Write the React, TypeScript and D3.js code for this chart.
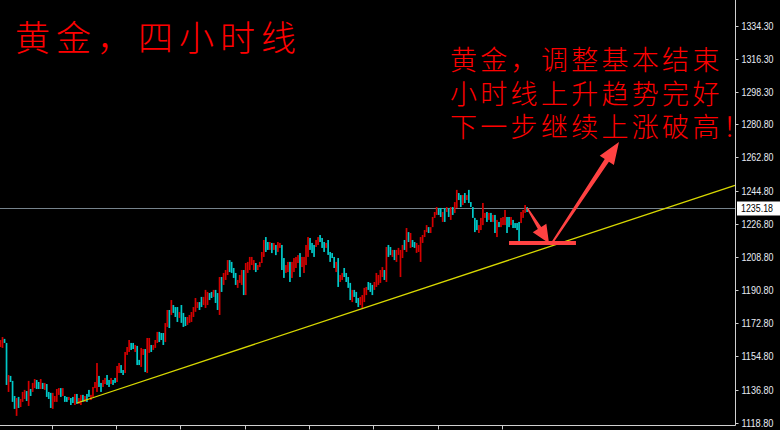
import React from 'react';
import * as d3 from 'd3';

const W = 780;
const H = 430;

const titleText = '黄金，四小时线';
const noteLines = ['黄金，调整基本结束', '小时线上升趋势完好', '下一步继续上涨破高！'];
const priceTicks = ['1334.30', '1316.30', '1298.30', '1280.80', '1262.80', '1244.80', '1226.80', '1208.80', '1190.80', '1172.80', '1154.80', '1136.80', '1118.80'];
const lastPrice = 1235.18;

// u = rising bar (red), d = falling bar (cyan)
const barDirs = [
  'uuddudddud', 'uuududuudd', 'ududdduuuu', 'dudduddudu', 'ududduuuud',
  'duuddudduu', 'dduuuddudd', 'uuduuduuud', 'dduududddu', 'ddduuuuuud',
  'duuudduddu', 'duuudddduu', 'uduuuuuduu', 'uuddududuu', 'dduuduuuud',
  'uuuuddduud', 'dduddddudu', 'uddddudddu', 'uuuddduuuu', 'ududduduuu',
  'udududduuu', 'uuuduuuudd', 'udududuudd', 'ududdddduu', 'uududududu',
  'uudduddddu', 'uud',
].join('');

const highs = [
  1163.7, 1165.3, 1164.3, 1162.1, 1144.7, 1144.2, 1141.5, 1133.3, 1132.2, 1132.8,
  1131.7, 1135.5, 1136.6, 1136.0, 1141.5, 1137.1, 1140.4, 1142.5, 1142.0, 1140.9,
  1142.5, 1140.4, 1140.4, 1139.8, 1135.5, 1135.0, 1135.0, 1133.3, 1137.1, 1137.6,
  1137.6, 1137.6, 1133.3, 1132.8, 1132.8, 1132.2, 1132.8, 1134.4, 1134.4, 1132.2,
  1133.9, 1133.9, 1133.3, 1134.4, 1136.6, 1133.9, 1138.2, 1140.9, 1151.2, 1144.2,
  1140.4, 1142.0, 1143.1, 1144.7, 1142.0, 1143.1, 1142.0, 1143.1, 1149.6, 1151.2,
  1150.1, 1147.4, 1157.2, 1159.9, 1163.7, 1162.1, 1162.1, 1161.0, 1160.5, 1152.9,
  1159.4, 1158.8, 1158.8, 1164.8, 1164.8, 1161.0, 1161.0, 1163.7, 1168.1, 1168.1,
  1167.5, 1167.5, 1172.9, 1180.0, 1180.0, 1185.4, 1182.7, 1181.6, 1181.6, 1178.9,
  1182.7, 1178.4, 1176.2, 1176.2, 1177.3, 1178.9, 1181.6, 1186.5, 1184.3, 1184.3,
  1187.1, 1187.1, 1190.9, 1189.8, 1189.2, 1189.8, 1190.9, 1190.9, 1189.2, 1197.9,
  1197.9, 1200.1, 1201.7, 1207.1, 1207.1, 1206.1, 1202.8, 1200.1, 1196.3, 1199.0,
  1201.7, 1201.7, 1205.5, 1206.1, 1208.8, 1208.8, 1207.1, 1205.5, 1204.4, 1206.1,
  1211.5, 1218.0, 1219.6, 1216.9, 1216.9, 1216.4, 1216.4, 1215.3, 1216.9, 1216.4,
  1215.3, 1208.2, 1204.4, 1206.1, 1206.1, 1206.1, 1208.2, 1208.8, 1209.8, 1210.9,
  1208.8, 1208.8, 1215.3, 1219.6, 1219.1, 1216.4, 1215.3, 1218.0, 1219.6, 1220.7,
  1219.1, 1216.9, 1216.4, 1218.0, 1211.5, 1210.9, 1208.8, 1206.1, 1208.2, 1199.0,
  1200.1, 1202.8, 1200.1, 1197.9, 1194.7, 1190.9, 1190.9, 1189.8, 1186.5, 1187.1,
  1188.1, 1192.0, 1192.5, 1195.2, 1194.7, 1193.6, 1195.2, 1200.1, 1199.0, 1201.7,
  1203.3, 1201.7, 1214.2, 1215.3, 1214.2, 1212.6, 1212.6, 1212.6, 1213.7, 1212.6,
  1215.3, 1218.0, 1224.5, 1222.3, 1221.8, 1218.0, 1216.9, 1216.4, 1215.3, 1219.6,
  1220.7, 1223.4, 1226.1, 1225.0, 1225.0, 1230.5, 1233.2, 1235.9, 1235.4, 1235.4,
  1233.2, 1235.4, 1235.9, 1235.4, 1235.9, 1235.9, 1238.6, 1245.2, 1243.5, 1242.4,
  1242.4, 1243.5, 1242.4, 1245.2, 1238.6, 1235.9, 1230.0, 1228.9, 1226.1, 1230.0,
  1238.1, 1232.7, 1233.2, 1232.7, 1232.7, 1231.6, 1231.6, 1228.9, 1227.8, 1230.0,
  1230.5, 1234.3, 1230.5, 1230.5, 1230.5, 1228.9, 1227.2, 1227.2, 1227.8, 1233.2,
  1234.3, 1237.0, 1235.9,
];

const lows = [
  1159.9, 1159.4, 1162.1, 1139.3, 1135.5, 1140.9, 1130.1, 1126.3, 1122.5, 1126.8,
  1127.3, 1130.1, 1131.7, 1130.6, 1127.9, 1133.3, 1135.5, 1137.6, 1137.1, 1137.1,
  1137.1, 1137.1, 1136.6, 1132.8, 1131.7, 1126.8, 1126.3, 1130.1, 1130.1, 1133.9,
  1132.8, 1133.3, 1130.1, 1130.1, 1131.1, 1128.4, 1129.5, 1128.4, 1129.0, 1129.0,
  1128.4, 1130.1, 1130.1, 1130.1, 1132.8, 1131.1, 1132.8, 1137.6, 1135.5, 1138.2,
  1135.5, 1138.2, 1139.8, 1139.3, 1138.2, 1139.8, 1139.3, 1140.4, 1140.9, 1145.8,
  1145.8, 1144.7, 1145.8, 1155.6, 1157.2, 1158.3, 1158.8, 1157.2, 1150.1, 1150.1,
  1149.1, 1155.6, 1146.3, 1145.8, 1156.7, 1157.2, 1158.3, 1159.4, 1162.1, 1162.6,
  1163.7, 1161.0, 1162.6, 1170.8, 1170.2, 1177.3, 1178.4, 1176.2, 1173.5, 1175.7,
  1173.0, 1170.8, 1171.3, 1171.9, 1173.0, 1173.5, 1176.2, 1179.0, 1181.1, 1180.0,
  1181.6, 1182.7, 1181.1, 1182.7, 1185.4, 1186.5, 1187.1, 1183.8, 1180.0, 1177.3,
  1189.8, 1193.6, 1196.3, 1199.0, 1200.6, 1200.1, 1197.4, 1193.6, 1192.0, 1194.7,
  1193.6, 1188.1, 1188.1, 1200.1, 1201.7, 1204.4, 1201.7, 1200.6, 1201.7, 1203.3,
  1205.5, 1208.8, 1211.5, 1212.6, 1212.6, 1210.9, 1212.6, 1209.8, 1211.5, 1213.7,
  1201.7, 1197.4, 1200.1, 1200.6, 1195.2, 1197.4, 1200.6, 1202.8, 1205.5, 1197.9,
  1203.3, 1200.1, 1204.4, 1208.8, 1212.6, 1210.9, 1208.8, 1214.2, 1215.3, 1216.9,
  1213.7, 1211.5, 1213.7, 1209.9, 1206.1, 1208.2, 1202.8, 1200.6, 1192.5, 1195.2,
  1196.3, 1197.9, 1195.2, 1192.0, 1185.4, 1184.3, 1187.1, 1183.8, 1181.6, 1182.7,
  1181.1, 1184.3, 1188.1, 1190.9, 1189.8, 1188.1, 1190.9, 1192.5, 1193.6, 1194.7,
  1197.9, 1196.3, 1195.2, 1208.8, 1209.8, 1208.8, 1207.1, 1206.1, 1209.9, 1197.9,
  1208.2, 1212.6, 1211.5, 1216.9, 1213.7, 1214.2, 1213.7, 1211.0, 1211.5, 1206.1,
  1216.4, 1219.6, 1222.3, 1221.8, 1221.8, 1225.0, 1230.0, 1231.6, 1231.6, 1230.5,
  1227.8, 1227.8, 1233.2, 1230.5, 1228.9, 1231.6, 1232.7, 1235.4, 1239.7, 1235.9,
  1237.0, 1238.1, 1239.7, 1238.1, 1235.9, 1230.0, 1222.3, 1223.4, 1221.8, 1223.4,
  1226.1, 1230.0, 1227.8, 1228.9, 1227.8, 1227.8, 1221.8, 1219.6, 1225.0, 1225.0,
  1226.1, 1226.1, 1221.8, 1225.0, 1226.1, 1224.5, 1224.5, 1223.4, 1216.9, 1227.2,
  1230.0, 1232.7, 1233.2,
];

// trendline anchors: [bar index, price]
const trendPoints: [number, number][] = [[38, 1129.5], [365.4, 1247.7]];
// annotation: support bar and two arrows, in [bar index, price]
const supportBar: [number, number][] = [[253, 1216.4], [286.3, 1216.4]];
const arrowDown: [number, number][] = [[262, 1235.4], [272.9, 1216.2]];
const arrowUp: [number, number][] = [[274.4, 1216.4], [307.7, 1271.2]];

const timeTickStart = 25.5;
const timeTickStep = 32;

function arrowPath(sx: number, sy: number, ex: number, ey: number, w0: number, w1: number, hw: number, hl: number) {
  const dx = ex - sx, dy = ey - sy;
  const len = Math.hypot(dx, dy);
  const ux = dx / len, uy = dy / len;
  const nx = -uy, ny = ux;
  const hx = ex - ux * hl, hy = ey - uy * hl;
  const pts = [
    [sx + nx * w0 / 2, sy + ny * w0 / 2],
    [hx + nx * w1 / 2, hy + ny * w1 / 2],
    [hx + nx * hw / 2, hy + ny * hw / 2],
    [ex, ey],
    [hx - nx * hw / 2, hy - ny * hw / 2],
    [hx - nx * w1 / 2, hy - ny * w1 / 2],
    [sx - nx * w0 / 2, sy - ny * w0 / 2],
  ];
  return 'M' + pts.map(p => p[0].toFixed(2) + ',' + p[1].toFixed(2)).join('L') + 'Z';
}

export default function App() {
  const plotRight = 735.5;
  const plotBottom = 425.5;
  const x = d3.scaleLinear().domain([0, 100]).range([0.5, 201.5]);
  const y = d3.scaleLinear().domain([1118.8, 1334.3]).range([422.7, 25.8]);

  const bars = highs.map((h, i) => ({ i, h, l: lows[i], up: barDirs[i] === 'u' }));
  const timeTicks = d3.range(timeTickStart, highs.length, timeTickStep);

  const trend = d3.line<[number, number]>().x(d => x(d[0])).y(d => y(d[1]))(trendPoints) || '';

  const annoColor = '#ff4242';
  const cjk = '"Noto Sans CJK SC", "Noto Sans CJK JP", sans-serif';

  return (
    <svg width={W} height={H} style={{ position: 'absolute', left: 0, top: 0, display: 'block', background: '#000' }}>
      <rect x={0} y={0} width={W} height={H} fill="#000" />
      <defs>
        <clipPath id="plot">
          <rect x={0} y={0} width={plotRight} height={plotBottom} />
        </clipPath>
      </defs>
      <g clipPath="url(#plot)">
        {/* current price line */}
        <line x1={0} x2={plotRight} y1={Math.round(y(lastPrice)) + 0.5} y2={Math.round(y(lastPrice)) + 0.5} stroke="#76838c" strokeWidth={1} />
        {/* bars */}
        {bars.map(b => (
          <rect key={b.i} x={x(b.i) - 0.85} width={1.7} y={y(b.h)} height={Math.max(1, y(b.l) - y(b.h))}
            fill={b.up ? '#d40000' : '#00c8c8'} />
        ))}
        {/* trendline */}
        <path d={trend} stroke="#d8d800" strokeWidth={1.3} fill="none" />
        {/* annotations */}
        <line x1={x(supportBar[0][0])} x2={x(supportBar[1][0])} y1={y(supportBar[0][1])} y2={y(supportBar[1][1])} stroke={annoColor} strokeWidth={4} />
        <path d={arrowPath(x(arrowDown[0][0]), y(arrowDown[0][1]), x(arrowDown[1][0]), y(arrowDown[1][1]), 1.5, 4, 16, 18)} fill={annoColor} />
        <path d={arrowPath(x(arrowUp[0][0]), y(arrowUp[0][1]), x(arrowUp[1][0]), y(arrowUp[1][1]), 2, 5, 17, 22)} fill={annoColor} />
      </g>

      {/* axes */}
      <line x1={0} x2={plotRight} y1={plotBottom} y2={plotBottom} stroke="#d0d0d0" strokeWidth={1} />
      <line x1={plotRight} x2={plotRight} y1={0} y2={plotBottom} stroke="#d0d0d0" strokeWidth={1} />
      {timeTicks.map(t => (
        <line key={t} x1={Math.round(x(t)) + 0.5} x2={Math.round(x(t)) + 0.5} y1={plotBottom} y2={plotBottom + 4} stroke="#d0d0d0" strokeWidth={1} />
      ))}
      {priceTicks.map(t => {
        const yy = Math.round(y(parseFloat(t))) + 0.5;
        return (
          <g key={t}>
            <line x1={plotRight} x2={plotRight + 3} y1={yy} y2={yy} stroke="#d0d0d0" />
            <text x={741.5} y={yy} dy="0.36em" fill="#e8ecf4" fontFamily='"Liberation Sans", Arial, sans-serif' fontSize={10}
              textLength={32} lengthAdjust="spacingAndGlyphs">{t}</text>
          </g>
        );
      })}
      {/* last price label */}
      <g>
        <rect x={737} y={Math.round(y(lastPrice)) - 6.5} width={43} height={14} fill="#ffffff" />
        <text x={741} y={Math.round(y(lastPrice)) + 0.5} dy="0.36em" fill="#000" fontFamily='"Liberation Sans", Arial, sans-serif' fontSize={10}
          textLength={32} lengthAdjust="spacingAndGlyphs">{lastPrice.toFixed(2)}</text>
      </g>

      {/* title */}
      <text x={15} y={51} fill="#ff0000" fontFamily={cjk} fontWeight={300} fontSize={35} letterSpacing={6}>{titleText}</text>

      {/* note */}
      {noteLines.map((s, k) => (
        <text key={k} x={450} y={70 + k * 33.5} fill="#ff0000" fontFamily={cjk} fontWeight={300} fontSize={27} letterSpacing={3.3}>{s}</text>
      ))}
    </svg>
  );
}
